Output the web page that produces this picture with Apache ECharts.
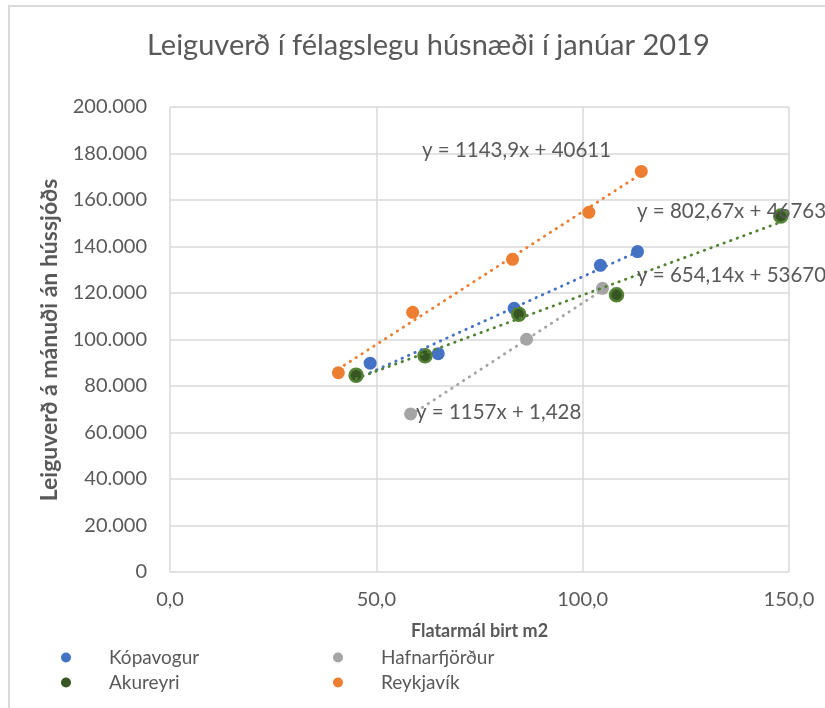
<!DOCTYPE html>
<html>
<head>
<meta charset="utf-8">
<title>Leiguverð</title>
<script src="https://cdn.jsdelivr.net/npm/echarts@6/dist/echarts.min.js"></script>
<style>
html,body{margin:0;padding:0;background:#fff;}
#chart{width:825px;height:708px;}
</style>
</head>
<body>
<div id="chart"></div>
<script>
// gögn lesin af myndinni
var seriesNames = ['Kópavogur', 'Hafnarfjörður', 'Akureyri', 'Reykjavík'];
var kopavogurX = [48.5, 65.0, 83.4, 104.3, 113.3];
var kopavogurY = [89800, 93900, 113400, 131900, 137800];
var hafnarfjordurX = [58.3, 86.4, 104.8];
var hafnarfjordurY = [68000, 100100, 122000];
var akureyriX = [45.1, 61.8, 84.5, 108.2, 148.0];
var akureyriY = [84600, 93000, 110900, 119200, 153100];
var reykjavikX = [40.8, 58.8, 83.0, 101.5, 114.2];
var reykjavikY = [85700, 111700, 134500, 154700, 172300];
// leitnilínur (úr jöfnunum á myndinni)
var trendSlope = [802.67, 1157, 654.14, 1143.9];
var trendIntercept = [46763, 1.428, 53670, 40611];
var trendText = ['y = 802,67x + 46763', 'y = 1157x + 1,428', 'y = 654,14x + 53670', 'y = 1143,9x + 40611'];
var xTicks = [0, 50, 100, 150];

var xs = [kopavogurX, hafnarfjordurX, akureyriX, reykjavikX];
var ys = [kopavogurY, hafnarfjordurY, akureyriY, reykjavikY];
var colors = ['#4472C4', '#A5A5A5', '#375623', '#ED7D31'];
var lineColors = ['#4472C4', '#A5A5A5', '#548235', '#ED7D31'];
var borders = ['#4472C4', '#A5A5A5', '#548235', '#ED7D31'];
// staðsetning jöfnutexta (px)
var eqPos = [[637, 211], [416, 412], [637, 275], [422, 150]];

var font = 'Lato, "Open Sans", sans-serif';
var grey = '#595959';

var chart = echarts.init(document.getElementById('chart'));

var series = [];
for (var i = 0; i < seriesNames.length; i++) {
	var pts = [];
	for (var j = 0; j < xs[i].length; j++) {
		pts.push([xs[i][j], ys[i][j]]);
	}
	series.push({
		name: seriesNames[i],
		type: 'scatter',
		symbol: 'circle',
		symbolSize: 13,
		itemStyle: {color: colors[i], borderColor: borders[i], borderWidth: i == 2 ? 2.5 : 0, opacity: 1},
		data: pts,
		z: 2
	});
}
for (var i = 0; i < seriesNames.length; i++) {
	var x0 = Math.min.apply(null, xs[i]), x1 = Math.max.apply(null, xs[i]);
	series.push({
		name: seriesNames[i] + ' leitni',
		type: 'line',
		symbol: 'none',
		silent: true,
		lineStyle: {color: lineColors[i], width: 2.8, type: [0.5, 6.5], cap: 'round'},
		data: [[x0, trendSlope[i] * x0 + trendIntercept[i]], [x1, trendSlope[i] * x1 + trendIntercept[i]]],
		z: 3
	});
}

var graphics = [{
	type: 'rect',
	shape: {x: 9, y: 6, width: 900, height: 800},
	style: {fill: 'none', stroke: '#d9d9d9', lineWidth: 2},
	silent: true
}, {
	// heiti y-áss
	type: 'text',
	x: 50,
	y: 340,
	rotation: Math.PI / 2,
	style: {text: 'Leiguverð á mánuði án hússjóðs', fill: grey, font: 'bold 23px ' + font, align: 'center', verticalAlign: 'middle'}
}];
for (var i = 0; i < trendText.length; i++) {
	graphics.push({
		type: 'text',
		x: eqPos[i][0],
		y: eqPos[i][1],
		z: 100,
		style: {text: trendText[i], fill: grey, font: '20.5px ' + font, verticalAlign: 'middle', align: 'left'}
	});
}

var legendText = {color: grey, fontSize: 19, fontFamily: font, padding: [0, 0, 0, 33]};
function legendItem(name) {
	return {name: name, icon: 'circle', itemStyle: {borderWidth: 0}};
}

var option = {
	animation: false,
	backgroundColor: '#fff',
	title: {
		text: 'Leiguverð í félagslegu húsnæði í janúar 2019',
		left: 147,
		top: 31,
		padding: 0,
		textStyle: {color: grey, fontSize: 29, fontWeight: 'normal', fontFamily: font}
	},
	grid: {left: 170, top: 107, right: 36, bottom: 136},
	legend: [{
		data: [legendItem('Kópavogur'), legendItem('Akureyri')],
		orient: 'vertical',
		left: 56,
		top: 643,
		itemWidth: 10,
		itemHeight: 10,
		itemGap: 6,
		textStyle: legendText
	}, {
		data: [legendItem('Hafnarfjörður'), legendItem('Reykjavík')],
		orient: 'vertical',
		left: 328,
		top: 643,
		itemWidth: 10,
		itemHeight: 10,
		itemGap: 6,
		textStyle: legendText
	}],
	xAxis: {
		type: 'value',
		min: xTicks[0],
		max: xTicks[xTicks.length - 1],
		interval: 50,
		name: 'Flatarmál birt m2',
		nameLocation: 'middle',
		nameGap: 50,
		nameTextStyle: {color: grey, fontSize: 18, fontWeight: 'bold', fontFamily: font},
		axisLine: {show: false},
		axisTick: {show: false},
		axisLabel: {
			color: grey, fontSize: 20, fontFamily: font, margin: 18,
			formatter: function (v) { return v.toFixed(1).replace('.', ','); }
		},
		splitLine: {show: true, lineStyle: {color: '#d9d9d9', width: 1.5}}
	},
	yAxis: {
		type: 'value',
		min: 0,
		max: 200000,
		interval: 20000,
		axisLine: {show: false},
		axisTick: {show: false},
		axisLabel: {
			color: grey, fontSize: 20, fontFamily: font, margin: 23,
			formatter: function (v) {
				if (v == 0) return '0';
				return String(v).replace(/\B(?=(\d{3})+(?!\d))/g, '.');
			}
		},
		splitLine: {show: true, lineStyle: {color: '#d9d9d9', width: 1.5}}
	},
	graphic: graphics,
	series: series
};
chart.setOption(option);
</script>
</body>
</html>
